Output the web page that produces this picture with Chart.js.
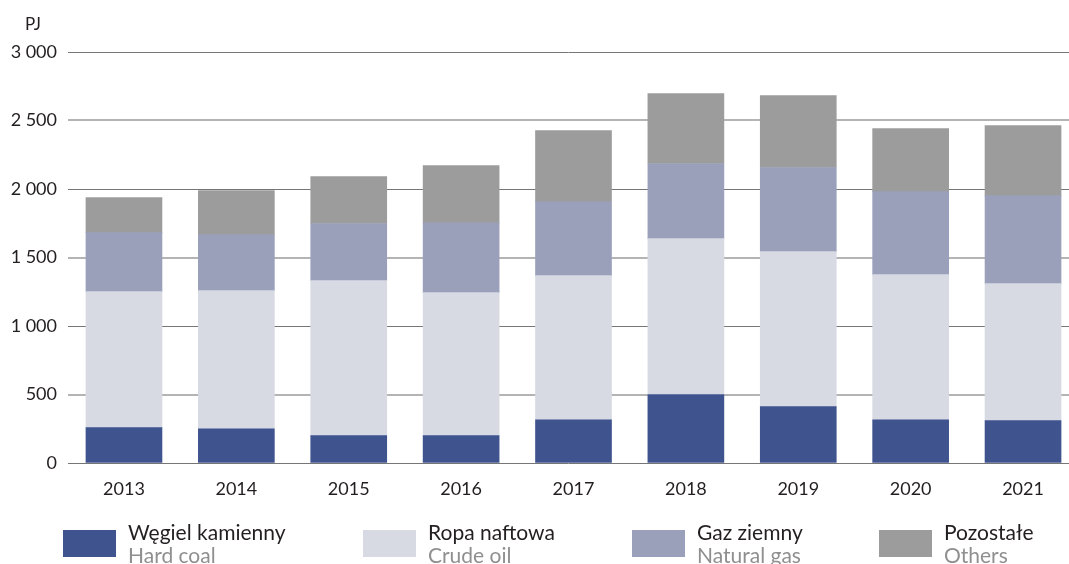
<!DOCTYPE html>
<html>
<head>
<meta charset="utf-8">
<script src="https://cdn.jsdelivr.net/npm/chart.js@4/dist/chart.umd.min.js"></script>
<style>
  body { margin: 0; background: #fff; }
  #wrap { position: relative; width: 1069px; height: 564px; overflow: hidden; font-family: Lato, sans-serif; }
  #unit { position: absolute; left: 25px; top: 13px; font-size: 17px; color: #231f20; }
  .leg { position: absolute; top: 520px; height: 50px; }
  .leg .sw { position: absolute; left: 0; top: 10px; width: 53px; height: 27px; }
  .leg .tx { position: absolute; left: 65px; top: 0; font-size: 21px; line-height: 23px; white-space: nowrap; color: #231f20; }
  .leg .tx span { color: #8f8f8f; }
</style>
</head>
<body>
<div id="wrap">
  <canvas id="wykres" width="1069" height="564"></canvas>
  <div id="unit">PJ</div>
  <div id="legenda"></div>
</div>
<script>
// lata i zuzycie nosnikow energii [PJ]
const lata = [2013, 2014, 2015, 2016, 2017, 2018, 2019, 2020, 2021];
const wegiel = [258, 250, 200, 200, 316, 499, 411, 316, 309];
const ropa = [993, 1008, 1131, 1044, 1052, 1139, 1132, 1059, 1000];
const gaz = [431, 409, 417, 509, 540, 548, 614, 606, 643];
const pozostale = [255, 322, 343, 418, 519, 511, 525, 460, 511];
const yTicks = [0, 500, 1000, 1500, 2000, 2500, 3000];

const nazwyPl = ['Węgiel kamienny', 'Ropa naftowa', 'Gaz ziemny', 'Pozostałe'];
const nazwyEn = ['Hard coal', 'Crude oil', 'Natural gas', 'Others'];
const kolory = ['#3f538f', '#d7dae3', '#9ba0ba', '#9c9c9c'];
const serie = [wegiel, ropa, gaz, pozostale];

// legenda w html (dwie linie tekstu)
const legX = [63, 363, 632, 879];
let legHtml = '';
for (let i = 0; i < nazwyPl.length; i++) {
    legHtml += '<div class="leg" style="left:' + legX[i] + 'px">' +
        '<div class="sw" style="background:' + kolory[i] + '"></div>' +
        '<div class="tx">' + nazwyPl[i] + '<br><span>' + nazwyEn[i] + '</span></div></div>';
}
document.getElementById('legenda').innerHTML = legHtml;

function fmt(v) {
    return String(v).replace(/\B(?=(\d{3})+(?!\d))/g, ' ');
}

const ctx = document.getElementById('wykres').getContext('2d');
const myChart = new Chart(ctx, {
    type: 'bar',
    data: {
        datasets: serie.map(function (s, i) {
            return {
                label: nazwyPl[i],
                data: s.map(function (v, j) { return { x: lata[j], y: v }; }),
                backgroundColor: kolory[i],
                borderWidth: 0,
                barThickness: 76
            };
        })
    },
    options: {
        responsive: false,
        animation: { duration: 0 },
        layout: { padding: { top: 52, left: 0, right: 0, bottom: 0 } },
        plugins: {
            legend: { display: false },
            tooltip: { enabled: false }
        },
        scales: {
            x: {
                type: 'linear',
                stacked: true,
                offset: false,
                min: 2012.502,
                max: 2021.409,
                grid: { display: false, offset: false },
                border: { display: false },
                afterBuildTicks: function (axis) {
                    axis.ticks = lata.map(function (v) { return { value: v }; });
                },
                afterFit: function (scale) { scale.height = 101; },
                ticks: {
                    padding: 7,
                    color: '#231f20',
                    font: { family: 'Lato', size: 18 },
                    callback: function (v) { return String(v); }
                }
            },
            y: {
                stacked: true,
                min: 0,
                max: 3000,
                afterBuildTicks: function (axis) {
                    axis.ticks = yTicks.map(function (v) { return { value: v }; });
                },
                afterFit: function (scale) { scale.width = 68; },
                border: { display: false },
                grid: {
                    drawTicks: false,
                    color: function (c) { return c.index % 2 ? '#b4b4b4' : '#767676'; },
                    lineWidth: function (c) { return c.index % 2 ? 2 : 1; }
                },
                ticks: {
                    padding: 11,
                    color: '#231f20',
                    font: { family: 'Lato', size: 18 },
                    callback: function (v) { return fmt(v); }
                }
            }
        }
    }
});
</script>
</body>
</html>
